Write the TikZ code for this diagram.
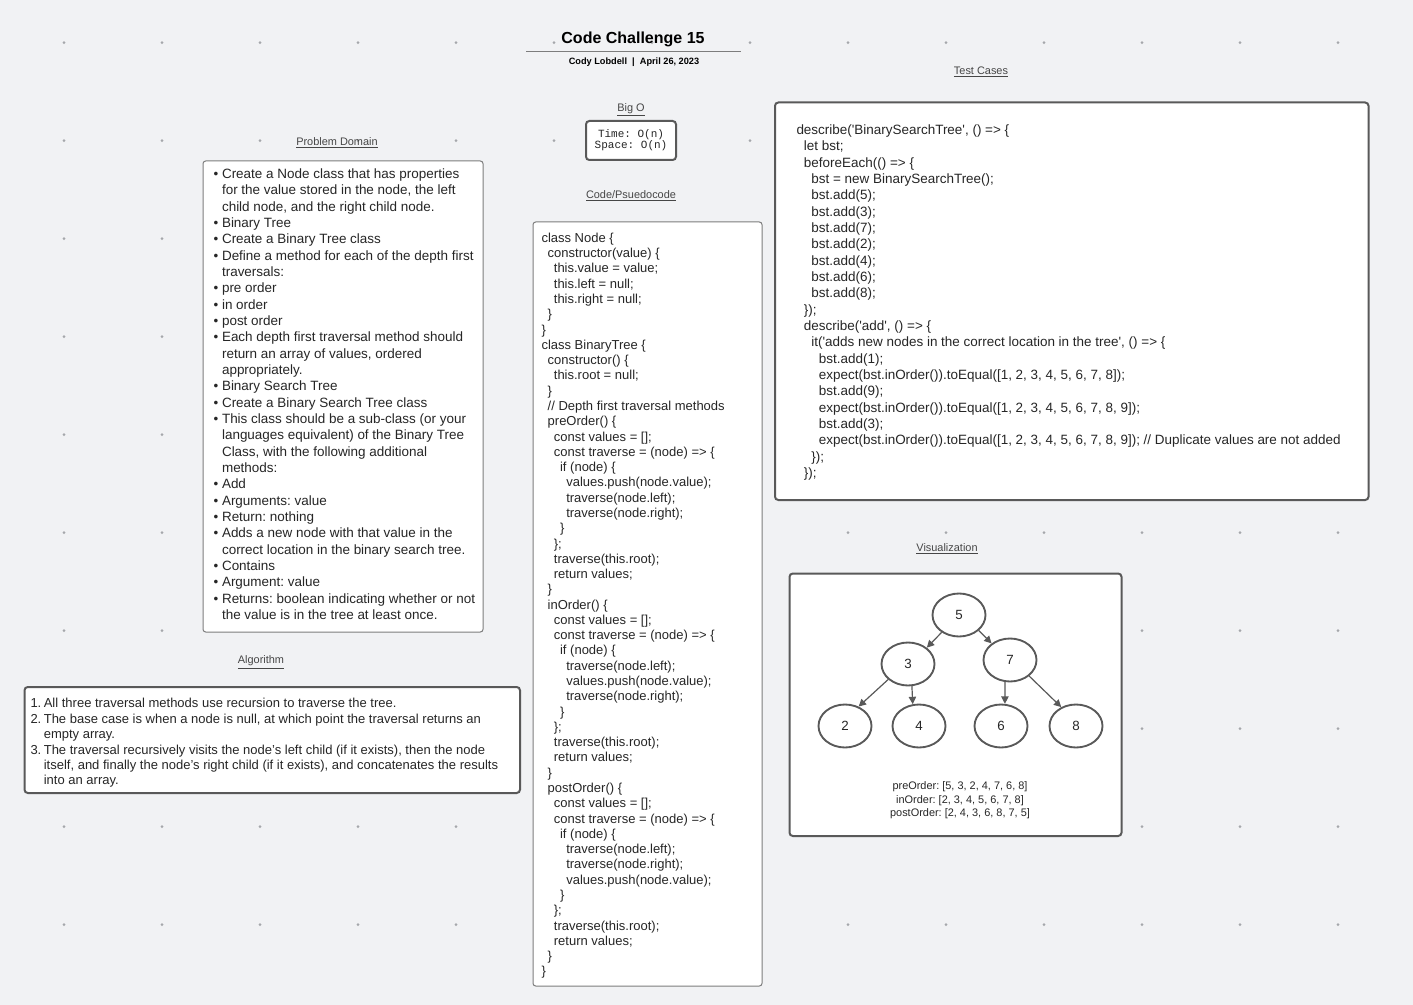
\documentclass[tikz,border=0pt]{standalone}
\usepackage{fontspec}
\setmainfont{Liberation Sans}
\newfontfamily\codefont{Liberation Sans}
\setmonofont{Liberation Mono}
\usetikzlibrary{arrows.meta,shapes.geometric}

\definecolor{pagebg}{RGB}{241,242,244}
\definecolor{griddot}{RGB}{165,167,171}
\definecolor{boxline}{RGB}{89,89,89}
\definecolor{thinline}{RGB}{125,125,125}
\definecolor{inktext}{RGB}{38,38,38}
\definecolor{headtext}{RGB}{70,70,70}

\newlength\codeind
\newcommand{\lv}[1]{\hspace*{#1\codeind}\ignorespaces}
\newcommand{\bul}{\makebox[6.4pt][l]{\textbullet}}
\newcommand{\hang}{\hspace*{6.4pt}\ignorespaces}
\newcommand{\numl}[1]{\makebox[10pt][l]{#1}\ignorespaces}
\newcommand{\hangn}{\hspace*{10pt}\ignorespaces}

\tikzset{every picture/.style={line width=0.75pt}}
\tikzset{
  panel/.style={draw=boxline, fill=white, line width=1.5pt, rounded corners=2.5pt},
  thinpanel/.style={draw=thinline, fill=white, line width=0.75pt, rounded corners=2pt},
  heading/.style={text=headtext, inner sep=0.75pt, font=\fontsize{8.2}{10}\selectfont},
  body/.style={anchor=north west, inner sep=0pt, align=left, text=inktext},
  bst/.style={ellipse, draw=boxline, line width=1.4pt, fill=white, minimum width=39.75pt, minimum height=32.25pt, inner sep=0pt, text=inktext, font=\fontsize{10}{12}\selectfont},
  link/.style={draw=boxline, line width=0.9pt, -{Triangle[length=5.5pt,width=5.5pt]}},
}

\begin{document}
\frenchspacing
\begin{tikzpicture}[x=0.75pt,y=0.75pt,yscale=-1,xscale=1]
\useasboundingbox (0,0) rectangle (1413,1005);
\fill[pagebg] (0,0) rectangle (1413,1005);

%Shape: Dot grid
\foreach \i in {0,...,13}{
  \foreach \j in {0,...,9}{
    \fill[griddot] ({64+98*\i},{42.7+98*\j}) circle (1.5);
  }
}

% Text Node
\draw (633,39.5) node (title) [inner sep=0.75pt, text=black, font=\fontsize{12}{14}\selectfont\bfseries] {Code Challenge 15};
%Straight Lines
\draw [color=thinline] (526,52) -- (741,52) ;
% Text Node
\draw (634,62.5) node (byline) [inner sep=0.75pt, text=black, font=\fontsize{6.9}{8}\selectfont\bfseries] {Cody Lobdell \ | \ April 26, 2023};

% Text Node
\draw (631,110) node (bigohead) [heading] {\underline{Big O}};
%Shape: Rectangle
\draw [panel] (586,121) rectangle (676,160) ;
% Text Node
\draw (631,140) node (bigo) [inner sep=0pt, align=center, text=inktext, font=\ttfamily\fontsize{8.25}{7.6}\selectfont] {Time: O(n)\\Space: O(n)};

% Text Node
\draw (631,196) node (codehead) [heading] {\underline{Code/Psuedocode}};
%Shape: Rectangle
\draw [thinpanel] (533,222) rectangle (762,986) ;
% Text Node
\draw (541,232.5) node (code) [body, font=\codefont\fontsize{9.75}{11.46}\selectfont\setlength\codeind{4.65pt}] {%
class Node \{\\
\lv1 constructor(value) \{\\
\lv2 this.value = value;\\
\lv2 this.left = null;\\
\lv2 this.right = null;\\
\lv1 \}\\
\}\\
class BinaryTree \{\\
\lv1 constructor() \{\\
\lv2 this.root = null;\\
\lv1 \}\\
\lv1 // Depth first traversal methods\\
\lv1 preOrder() \{\\
\lv2 const values = [];\\
\lv2 const traverse = (node) => \{\\
\lv3 if (node) \{\\
\lv4 values.push(node.value);\\
\lv4 traverse(node.left);\\
\lv4 traverse(node.right);\\
\lv3 \}\\
\lv2 \};\\
\lv2 traverse(this.root);\\
\lv2 return values;\\
\lv1 \}\\
\lv1 inOrder() \{\\
\lv2 const values = [];\\
\lv2 const traverse = (node) => \{\\
\lv3 if (node) \{\\
\lv4 traverse(node.left);\\
\lv4 values.push(node.value);\\
\lv4 traverse(node.right);\\
\lv3 \}\\
\lv2 \};\\
\lv2 traverse(this.root);\\
\lv2 return values;\\
\lv1 \}\\
\lv1 postOrder() \{\\
\lv2 const values = [];\\
\lv2 const traverse = (node) => \{\\
\lv3 if (node) \{\\
\lv4 traverse(node.left);\\
\lv4 traverse(node.right);\\
\lv4 values.push(node.value);\\
\lv3 \}\\
\lv2 \};\\
\lv2 traverse(this.root);\\
\lv2 return values;\\
\lv1 \}\\
\}};

% Text Node
\draw (337,143) node (domainhead) [heading] {\underline{Problem Domain}};
%Shape: Rectangle
\draw [thinpanel] (203,161) rectangle (483,632) ;
% Text Node
\draw (213,168.4) node (domain) [body, font=\fontsize{10.1}{12.25}\selectfont] {%
\bul Create a Node class that has properties\\
\hang for the value stored in the node, the left\\
\hang child node, and the right child node.\\
\bul Binary Tree\\
\bul Create a Binary Tree class\\
\bul Define a method for each of the depth first\\
\hang traversals:\\
\bul pre order\\
\bul in order\\
\bul post order\\
\bul Each depth first traversal method should\\
\hang return an array of values, ordered\\
\hang appropriately.\\
\bul Binary Search Tree\\
\bul Create a Binary Search Tree class\\
\bul This class should be a sub-class (or your\\
\hang languages equivalent) of the Binary Tree\\
\hang Class, with the following additional\\
\hang methods:\\
\bul Add\\
\bul Arguments: value\\
\bul Return: nothing\\
\bul Adds a new node with that value in the\\
\hang correct location in the binary search tree.\\
\bul Contains\\
\bul Argument: value\\
\bul Returns: boolean indicating whether or not\\
\hang the value is in the tree at least once.};

% Text Node
\draw (261,662.5) node (algohead) [heading] {\underline{Algorithm}};
%Shape: Rectangle
\draw [panel] (24.5,687) rectangle (520,793) ;
% Text Node
\draw (30,698) node (algo) [body, font=\fontsize{9.75}{11.55}\selectfont] {%
\numl{1.}All three traversal methods use recursion to traverse the tree.\\
\numl{2.}The base case is when a node is null, at which point the traversal returns an\\
\hangn empty array.\\
\numl{3.}The traversal recursively visits the node's left child (if it exists), then the node\\
\hangn itself, and finally the node's right child (if it exists), and concatenates the results\\
\hangn into an array.};

% Text Node
\draw (981,72) node (testhead) [heading] {\underline{Test Cases}};
%Shape: Rectangle
\draw [panel] (775,102.5) rectangle (1368.5,500) ;
% Text Node
\draw (796,124.4) node (tests) [body, font=\codefont\fontsize{10.1}{12.25}\selectfont\setlength\codeind{5.6pt}] {%
describe('BinarySearchTree', () => \{\\
\lv1 let bst;\\
\lv1 beforeEach(() => \{\\
\lv2 bst = new BinarySearchTree();\\
\lv2 bst.add(5);\\
\lv2 bst.add(3);\\
\lv2 bst.add(7);\\
\lv2 bst.add(2);\\
\lv2 bst.add(4);\\
\lv2 bst.add(6);\\
\lv2 bst.add(8);\\
\lv1 \});\\
\lv1 describe('add', () => \{\\
\lv2 it('adds new nodes in the correct location in the tree', () => \{\\
\lv3 bst.add(1);\\
\lv3 expect(bst.inOrder()).toEqual([1, 2, 3, 4, 5, 6, 7, 8]);\\
\lv3 bst.add(9);\\
\lv3 expect(bst.inOrder()).toEqual([1, 2, 3, 4, 5, 6, 7, 8, 9]);\\
\lv3 bst.add(3);\\
\lv3 expect(bst.inOrder()).toEqual([1, 2, 3, 4, 5, 6, 7, 8, 9]); // Duplicate values are not added\\
\lv2 \});\\
\lv1 \});};

% Text Node
\draw (947,549) node (vishead) [heading] {\underline{Visualization}};
%Shape: Rectangle
\draw [panel] (789.5,573.5) rectangle (1121.5,836) ;

%Shape: Ellipse
\node [bst] (n5) at (959,615) {5};
\node [bst] (n3) at (908,664) {3};
\node [bst] (n7) at (1010,660) {7};
\node [bst] (n2) at (845,726) {2};
\node [bst] (n4) at (919,726) {4};
\node [bst] (n6) at (1001,726) {6};
\node [bst] (n8) at (1076,726) {8};

%Straight Lines
\draw [link] (n5.-135) -- (n3.41) ;
\draw [link] (n5.-38) -- (n7.138) ;
\draw [link] (n3.-142) -- (n2.55) ;
\draw [link] (n3.-80) -- (n4.106) ;
\draw [link] (n7.-103) -- (n6.80) ;
\draw [link] (n7.-40) -- (n8.128) ;

% Text Node
\draw (960,800.5) node (orders) [inner sep=0pt, align=center, text=inktext, font=\fontsize{8.2}{10.1}\selectfont] {preOrder: [5, 3, 2, 4, 7, 6, 8]\\inOrder: [2, 3, 4, 5, 6, 7, 8]\\postOrder: [2, 4, 3, 6, 8, 7, 5]};

\end{tikzpicture}
\end{document}
